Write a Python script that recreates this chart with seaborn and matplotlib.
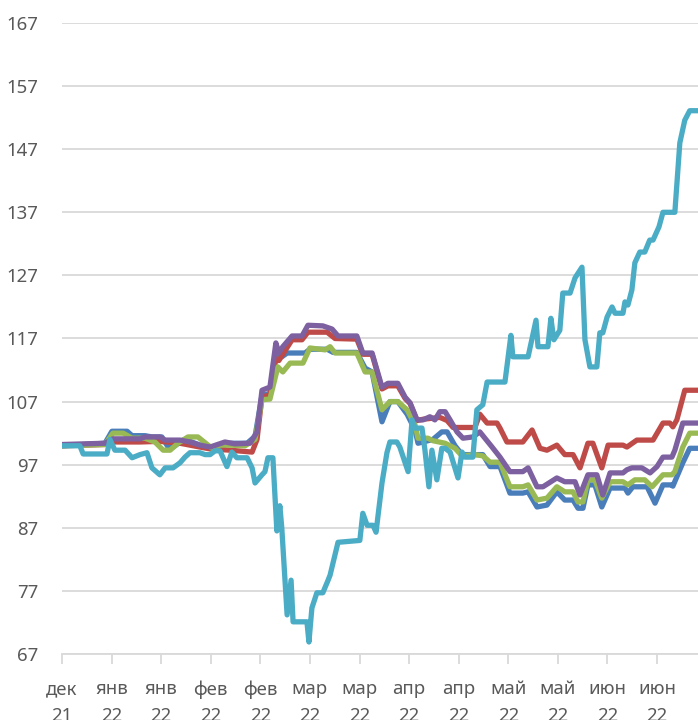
import matplotlib
matplotlib.use("Agg")
import matplotlib.pyplot as plt
import seaborn as sns
import pandas as pd

# x tick labels (every 15 days from the first observation)
tick_days = [0, 15, 30, 45, 60, 75, 90, 105, 120, 135, 150, 165, 180]
tick_labels = ["дек\n21", "янв\n22", "янв\n22", "фев\n22", "фев\n22", "мар\n22", "мар\n22",
               "апр\n22", "апр\n22", "май\n22", "май\n22", "июн\n22", "июн\n22"]
y_ticks = [67, 77, 87, 97, 107, 117, 127, 137, 147, 157, 167]

# series 1 (blue)
blue_days = [0, 13.0, 15.1, 19.7, 21.2, 25.1, 27.2, 30.2, 32.1, 33.6, 36.6, 38.7, 42.3, 46.3, 50.8,
             56.0, 58.4, 60.5, 62.9, 64.7, 66.5, 68.1, 73.5, 75.0, 80.2, 82.0, 89.2, 91.7, 93.8,
             96.8, 99.2, 101.6, 104.4, 106.8, 107.7, 110.7, 112.2, 114.9, 116.5, 118.9, 121.0,
             127.3, 129.5, 132.5, 135.5, 139.4, 141.0, 143.7, 146.7, 149.7, 152.1, 154.6, 156.1,
             157.6, 159.1, 161.2, 163.3, 165.8, 170.3, 171.2, 172.7, 177.0, 179.4, 181.8, 184.5,
             184.8, 187.8, 189.9, 192.4]
blue_vals = [100.0, 100.4, 102.3, 102.3, 101.6, 101.6, 101.4, 101.4, 99.8, 99.8, 100.9, 100.7, 100.0,
             99.6, 100.4, 100.4, 101.5, 108.0, 108.3, 114.8, 114.1, 114.7, 114.7, 115.3, 115.3,
             114.8, 114.8, 112.3, 111.7, 103.8, 107.0, 107.0, 105.0, 102.5, 100.4, 100.8, 101.0,
             102.2, 102.2, 100.0, 98.6, 98.6, 96.7, 96.7, 92.5, 92.5, 92.7, 90.3, 90.6, 92.7, 91.4,
             91.4, 90.1, 90.1, 93.8, 93.8, 90.3, 93.3, 93.3, 92.5, 93.5, 93.5, 90.9, 93.8, 93.8,
             93.6, 97.3, 99.6, 99.6]

# series 2 (red)
red_days = [0, 13.0, 15.4, 23.6, 29.6, 35.7, 41.7, 44.8, 50.8, 57.5, 59.0, 60.5, 62.9, 64.7, 65.6,
            66.8, 69.6, 72.6, 74.4, 80.2, 82.6, 89.2, 91.0, 93.8, 96.8, 98.6, 101.6, 103.8, 105.3,
            107.4, 109.2, 114.3, 116.5, 118.3, 124.9, 126.4, 128.6, 131.6, 132.5, 134.6, 139.4,
            142.2, 144.6, 146.7, 149.7, 152.1, 154.6, 156.7, 159.1, 160.6, 163.3, 165.2, 169.7,
            170.9, 173.9, 178.8, 181.8, 183.9, 184.8, 186.0, 188.4, 192.4]
red_vals = [100.0, 100.2, 100.6, 100.6, 100.7, 100.4, 99.8, 99.5, 99.3, 99.0, 101.0, 107.8, 108.0,
            113.8, 113.5, 114.5, 116.8, 116.8, 118.0, 118.0, 117.0, 116.9, 114.5, 114.5, 109.0,
            109.5, 109.5, 107.5, 106.7, 104.0, 104.2, 104.5, 104.0, 102.9, 102.9, 105.0, 103.6,
            103.6, 102.8, 100.6, 100.6, 102.5, 99.6, 99.3, 100.1, 98.6, 98.6, 96.5, 100.4, 100.4,
            96.5, 100.1, 100.1, 99.8, 100.9, 100.9, 103.6, 103.6, 103.0, 104.1, 108.8, 108.8]

# series 3 (green)
green_days = [0, 13.0, 15.4, 18.5, 21.2, 25.1, 28.1, 30.6, 32.7, 35.1, 38.1, 41.1, 44.2, 45.4, 47.8,
              50.8, 55.4, 58.4, 60.5, 62.9, 65.3, 66.8, 69.0, 72.9, 75.0, 79.6, 81.1, 82.6, 89.2,
              91.7, 93.8, 96.8, 99.2, 101.6, 104.4, 106.8, 107.7, 110.7, 112.2, 115.9, 118.9,
              121.0, 124.9, 127.3, 129.5, 132.5, 135.5, 139.4, 141.0, 143.7, 146.7, 149.7, 152.1,
              154.6, 156.1, 157.6, 159.1, 161.2, 163.3, 165.8, 169.7, 171.2, 173.3, 176.3, 178.5,
              181.8, 184.5, 185.4, 187.8, 189.9, 192.4]
green_vals = [100.0, 100.2, 102.0, 102.0, 101.2, 101.2, 100.6, 99.3, 99.3, 100.4, 101.4, 101.4,
              100.1, 99.6, 100.1, 100.1, 100.0, 101.0, 107.3, 107.4, 112.5, 111.7, 113.1, 113.1,
              115.5, 115.2, 115.7, 114.7, 114.7, 111.7, 111.7, 105.7, 107.0, 107.0, 105.7, 103.3,
              101.2, 101.2, 100.8, 100.4, 99.6, 98.4, 98.6, 98.4, 97.4, 97.4, 93.5, 93.5, 93.8,
              91.4, 91.7, 93.5, 92.7, 92.7, 91.1, 91.1, 94.6, 94.6, 91.7, 94.3, 94.3, 93.8, 94.6,
              94.6, 93.5, 95.4, 95.4, 95.9, 99.8, 102.0, 102.0]

# series 4 (purple)
purple_days = [0, 13.0, 15.4, 23.6, 25.1, 29.6, 31.2, 35.7, 38.7, 41.7, 44.8, 49.3, 52.3, 56.9,
               59.0, 60.5, 62.9, 64.7, 65.6, 66.8, 69.6, 72.6, 74.4, 78.9, 81.7, 83.5, 89.2, 91.0,
               93.8, 96.8, 98.6, 101.6, 103.8, 105.3, 107.4, 109.2, 111.3, 112.8, 114.3, 115.9,
               117.4, 119.5, 121.3, 124.3, 126.4, 130.1, 132.5, 135.5, 139.4, 141.0, 143.7, 145.5,
               149.7, 152.1, 155.2, 156.7, 159.1, 161.8, 163.6, 165.8, 169.7, 170.9, 172.4, 175.4,
               177.9, 180.0, 181.8, 184.5, 185.4, 187.8, 192.4]
purple_vals = [100.2, 100.4, 101.1, 101.1, 101.4, 101.4, 100.9, 100.9, 100.6, 100.1, 99.8, 100.6,
               100.3, 100.4, 102.2, 108.8, 109.3, 116.3, 114.7, 115.7, 117.4, 117.4, 119.1, 119.0,
               118.5, 117.4, 117.4, 114.7, 114.7, 109.3, 109.9, 109.9, 107.7, 106.8, 104.1, 104.1,
               104.6, 104.1, 105.4, 105.4, 104.1, 102.2, 101.2, 101.4, 102.2, 99.8, 98.2, 95.9,
               95.9, 96.5, 93.5, 93.5, 94.9, 94.3, 94.3, 92.2, 95.4, 95.4, 92.2, 95.7, 95.7, 96.2,
               96.5, 96.5, 95.7, 96.7, 98.2, 98.2, 99.3, 103.6, 103.6]

# series 5 (cyan)
cyan_days = [0, 5.4, 6.4, 13.6, 14.5, 16.0, 19.1, 21.2, 23.6, 25.7, 27.2, 29.6, 31.2, 33.6, 35.7,
             37.2, 38.7, 41.7, 43.3, 44.8, 46.3, 47.8, 49.9, 51.4, 52.9, 56.0, 57.5, 58.4, 60.5,
             61.4, 62.3, 63.8, 65.0, 65.9, 66.5, 68.1, 69.3, 69.9, 74.1, 74.7, 75.6, 77.1, 78.9,
             80.5, 81.1, 83.5, 90.1, 91.0, 92.3, 94.1, 95.0, 96.8, 98.3, 99.2, 101.3, 102.2, 104.7,
             105.9, 106.8, 108.9, 109.8, 111.0, 111.9, 113.4, 114.9, 115.9, 117.4, 119.8, 121.0,
             121.9, 124.3, 125.5, 127.3, 128.6, 134.0, 135.8, 136.4, 141.0, 143.4, 144.0, 147.0,
             147.9, 148.8, 150.6, 151.5, 153.7, 155.2, 157.3, 158.2, 159.7, 161.8, 162.7, 163.6,
             164.9, 166.4, 167.3, 169.7, 170.3, 171.2, 172.4, 173.3, 174.8, 176.3, 177.8, 178.8,
             180.6, 181.8, 185.4, 186.9, 188.4, 189.9, 192.4]
cyan_vals = [100.0, 100.0, 98.7, 98.7, 101.0, 99.3, 99.3, 98.1, 98.6, 98.9, 96.5, 95.4, 96.5, 96.5,
             97.3, 98.2, 98.9, 98.9, 98.6, 98.6, 99.2, 99.2, 96.7, 99.0, 98.1, 98.1, 96.5, 94.1,
             95.4, 95.9, 98.1, 98.1, 86.5, 90.5, 86.9, 73.2, 78.7, 72.1, 72.1, 68.9, 74.3, 76.7,
             76.7, 78.7, 79.5, 84.7, 85.0, 89.3, 87.4, 87.4, 86.3, 94.1, 98.9, 100.6, 100.6, 99.8,
             95.9, 104.1, 102.8, 102.8, 99.3, 93.5, 99.3, 94.6, 99.6, 99.6, 99.0, 94.9, 99.0, 98.2,
             98.2, 105.7, 106.5, 110.1, 110.1, 117.5, 114.1, 114.1, 119.9, 115.7, 115.7, 120.2,
             116.8, 118.3, 124.2, 124.2, 126.6, 128.3, 116.8, 112.5, 112.5, 117.9, 117.9, 120.4,
             122.0, 121.0, 121.0, 122.8, 122.3, 124.7, 129.0, 130.7, 130.7, 132.6, 132.6, 134.7,
             137.0, 137.0, 148.0, 151.6, 153.1, 153.1]

series = [
    ("s1", blue_days, blue_vals, "#4A7EBB"),
    ("s2", red_days, red_vals, "#BE4B48"),
    ("s3", green_days, green_vals, "#98B954"),
    ("s4", purple_days, purple_vals, "#7D60A0"),
    ("s5", cyan_days, cyan_vals, "#4BACC6"),
]

sns.set_theme(style="white")
plt.rcParams["font.family"] = ["Noto Sans", "DejaVu Sans"]

fig = plt.figure(figsize=(6.98, 7.2), dpi=100)
ax = fig.add_axes([62 / 698, 66 / 720, 636 / 698, 631 / 720])

for name, d, v, c in series:
    df = pd.DataFrame({"day": d, "value": v})
    sns.lineplot(data=df, x="day", y="value", color=c, linewidth=3.8, ax=ax,
                 estimator=None, sort=False, solid_joinstyle="round", solid_capstyle="round")

ax.set_xlim(0, 192.4)
ax.set_ylim(67, 167)
ax.set_yticks(y_ticks)
ax.set_yticklabels([str(t) for t in y_ticks])
ax.set_xticks(tick_days)
ax.set_xticklabels(tick_labels)
ax.set_xlabel("")
ax.set_ylabel("")

ax.grid(axis="y", color="#D9D9D9", linewidth=1.3)
ax.grid(axis="x", visible=False)
ax.set_axisbelow(True)
for s in ["top", "right", "left"]:
    ax.spines[s].set_visible(False)
ax.spines["bottom"].set_color("#D9D9D9")
ax.spines["bottom"].set_linewidth(1.3)

ax.tick_params(axis="y", length=0, pad=17, labelsize=13.4, labelcolor="#595959")
ax.tick_params(axis="x", length=7, width=1.3, color="#D9D9D9", direction="out",
               pad=12, labelsize=13.4, labelcolor="#595959", bottom=True)
for lbl in ax.get_xticklabels():
    lbl.set_linespacing(1.6)

fig.savefig("out.png", dpi=100)
